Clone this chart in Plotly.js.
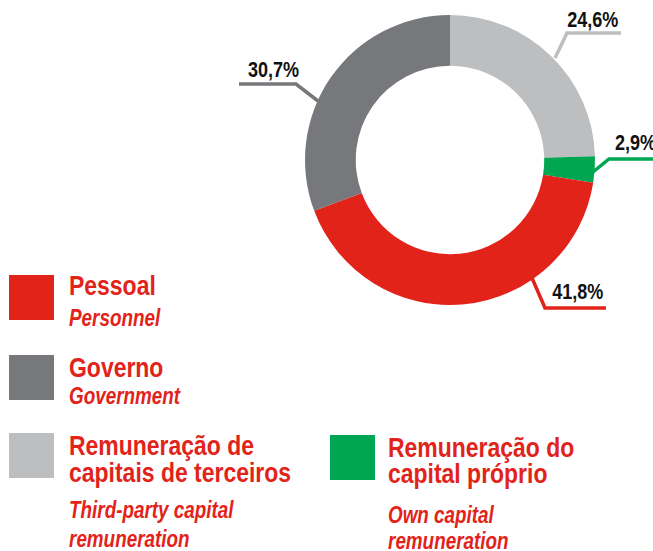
<!DOCTYPE html>
<html>
<head>
<meta charset="utf-8">
<script src="https://cdn.plot.ly/plotly-3.0.1.min.js"></script>
<style>html,body{margin:0;padding:0;background:#fff;}#chart{width:653px;height:551px;}</style>
</head>
<body>
<div id="chart"></div>
<script>
// ---- data ----
const categories = ['Remuneração de capitais de terceiros', 'Remuneração do capital próprio', 'Pessoal', 'Governo'];
const categoriesEN = ['Third-party capital remuneration', 'Own capital remuneration', 'Personnel', 'Government'];
const shares = [24.6, 2.9, 41.8, 30.7];
const valueLabels = ['24,6%', '2,9%', '41,8%', '30,7%'];
const colors = ['#bcbec0', '#00a651', '#e2231a', '#77787b'];

// legend text split into lines
const legendPT = [['Remuneração de', 'capitais de terceiros'], ['Remuneração do', 'capital próprio'], ['Pessoal'], ['Governo']];
const legendEN = [['Third-party capital', 'remuneration'], ['Own capital', 'remuneration'], ['Personnel'], ['Government']];

// ---- layout helpers (pixel -> paper) ----
const W = 653, H = 551;
const px = x => x / W;
const py = y => 1 - y / H;
const FONT = '"Liberation Sans", Arial, sans-serif';
const NARROW = 0.82; // horizontal condensing to emulate a narrow face
const RED = '#e2231a';

// donut geometry
const cx = 450, cy = 160, R = 145;

const trace = {
  type: 'pie',
  labels: categories,
  values: shares,
  sort: false,
  direction: 'clockwise',
  rotation: 0,
  hole: 0.65,
  marker: {colors: colors, line: {width: 0}},
  textinfo: 'none',
  hoverinfo: 'label+percent',
  showlegend: false,
  domain: {x: [px(cx - R), px(cx + R)], y: [py(cy + R), py(cy - R)]}
};

// leader lines & value labels (positions in px)
const leaders = [
  {pts: [[555, 58], [567, 33], [621, 33]], tx: 620, ty: 20, anchor: 'right'},
  {pts: [[593, 172], [609, 159], [655, 159]], tx: 613, ty: 142, anchor: 'left'},
  {pts: [[532, 278], [545, 308], [606, 308]], tx: 605, ty: 291, anchor: 'right'},
  {pts: [[318, 101], [296, 84], [239, 84]], tx: 246, ty: 69, anchor: 'left'}
];

const shapes = [];
const annotations = [];
leaders.forEach((l, i) => {
  const path = l.pts.map((p, k) => (k ? 'L' : 'M') + px(p[0]) + ',' + py(p[1])).join(' ');
  shapes.push({type: 'path', xref: 'paper', yref: 'paper', path: path,
    line: {color: colors[i], width: 3.5}, layer: 'above'});
  annotations.push({xref: 'paper', yref: 'paper', x: px(l.tx), y: py(l.ty),
    xanchor: l.anchor, yanchor: 'middle', showarrow: false, text: valueLabels[i],
    font: {family: FONT, size: 22, color: '#111', weight: 'bold'}});
});

// legend: index, box (x,y top-left), text x, PT line centres, EN line centres
const legendPos = [
  {idx: 2, bx: 9, by: 275, tx: 69, pt: [285.5], en: [317.5]},
  {idx: 3, bx: 9, by: 355, tx: 69, pt: [367], en: [396]},
  {idx: 0, bx: 9, by: 433, tx: 69, pt: [445.5, 472.5], en: [510, 539]},
  {idx: 1, bx: 330, by: 435, tx: 388, pt: [447, 473], en: [514.5, 540.5]}
];
legendPos.forEach(e => {
  shapes.push({type: 'rect', xref: 'paper', yref: 'paper',
    x0: px(e.bx), x1: px(e.bx + 45), y0: py(e.by + 45), y1: py(e.by),
    fillcolor: colors[e.idx], line: {width: 0}});
  legendPT[e.idx].forEach((t, k) => {
    annotations.push({xref: 'paper', yref: 'paper', x: px(e.tx - 2), y: py(e.pt[k]),
      xanchor: 'left', yanchor: 'middle', showarrow: false, text: t,
      font: {family: FONT, size: 28, color: RED, weight: 'bold'}});
  });
  legendEN[e.idx].forEach((t, k) => {
    annotations.push({xref: 'paper', yref: 'paper', x: px(e.tx - 2), y: py(e.en[k]),
      xanchor: 'left', yanchor: 'middle', showarrow: false, text: t,
      font: {family: FONT, size: 23, color: RED, weight: 'bold', style: 'italic'}});
  });
});

const layout = {
  width: W, height: H,
  margin: {l: 0, r: 0, t: 0, b: 0},
  paper_bgcolor: '#fff',
  plot_bgcolor: '#fff',
  showlegend: false,
  shapes: shapes,
  annotations: annotations
};

Plotly.newPlot('chart', [trace], layout, {displayModeBar: false, staticPlot: true}).then(gd => {
  // condense annotation text horizontally (narrow typeface look)
  gd.querySelectorAll('g.annotation').forEach(g => {
    const idx = +g.getAttribute('data-index');
    const a = layout.annotations[idx];
    const t = g.querySelector('text.annotation-text');
    if (!t) return;
    t.style.transformBox = 'fill-box';
    t.style.transformOrigin = (a.xanchor === 'right' ? 'right' : 'left') + ' center';
    t.style.transform = 'scaleX(' + NARROW + ')';
  });
});
</script>
</body>
</html>
